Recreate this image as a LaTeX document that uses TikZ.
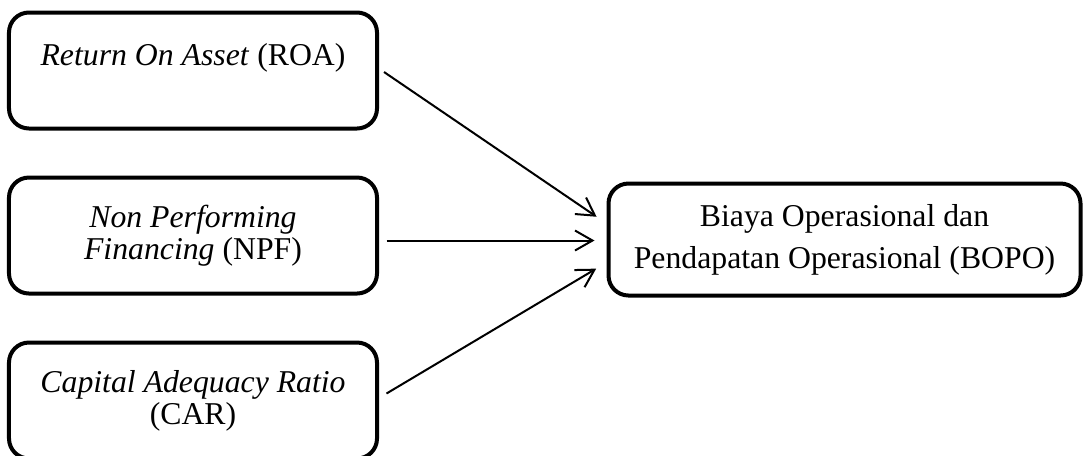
\documentclass[tikz,border=0pt]{standalone}
\usepackage{fontspec}
\setmainfont{Liberation Serif}
\usetikzlibrary{positioning,arrows.meta}
\tikzset{
    varbox/.style={draw, line width=1.6pt, rounded corners=8pt, minimum width=147.2pt,
        minimum height=46.4pt, inner sep=0pt, align=center,
        font=\fontsize{12.7}{12.8}\selectfont},
    terikat/.style={varbox, minimum width=188.8pt, minimum height=44.8pt,
        font=\fontsize{12.7}{16.8}\selectfont},
    pengaruh/.style={-{Straight Barb[length=7pt,width=8pt]}, line width=0.8pt, shorten >=4.8pt}
}

\begin{document}
\begin{tikzpicture}[x=0.4pt,y=-0.4pt]
            \useasboundingbox (0,0) rectangle (1090,455);
            \node[varbox] (roa) at (193,70.5) {\textit{Return On Asset} (ROA)\\ ~};
            \node[varbox, below=18pt of roa] (npf) {\textit{Non Performing}\\\textit{Financing} (NPF)};
            \node[varbox, below=18pt of npf] (car) {\textit{Capital Adequacy Ratio}\\(CAR)};
            \node[terikat, right=91pt of npf, yshift=-1.6pt] (bopo) {Biaya Operasional dan\\Pendapatan Operasional (BOPO)};
            \draw[pengaruh] ([yshift=-0.6pt]roa.east) ++(2pt,0) -- ([yshift=6.4pt]bopo.west);
            \draw[pengaruh] ([xshift=3pt,yshift=-2pt]npf.east) -- ([yshift=-0.4pt]bopo.west);
            \draw[pengaruh] ([xshift=3pt,yshift=2.8pt]car.east) -- ([yshift=-9.2pt]bopo.west);
\end{tikzpicture}
\end{document}
